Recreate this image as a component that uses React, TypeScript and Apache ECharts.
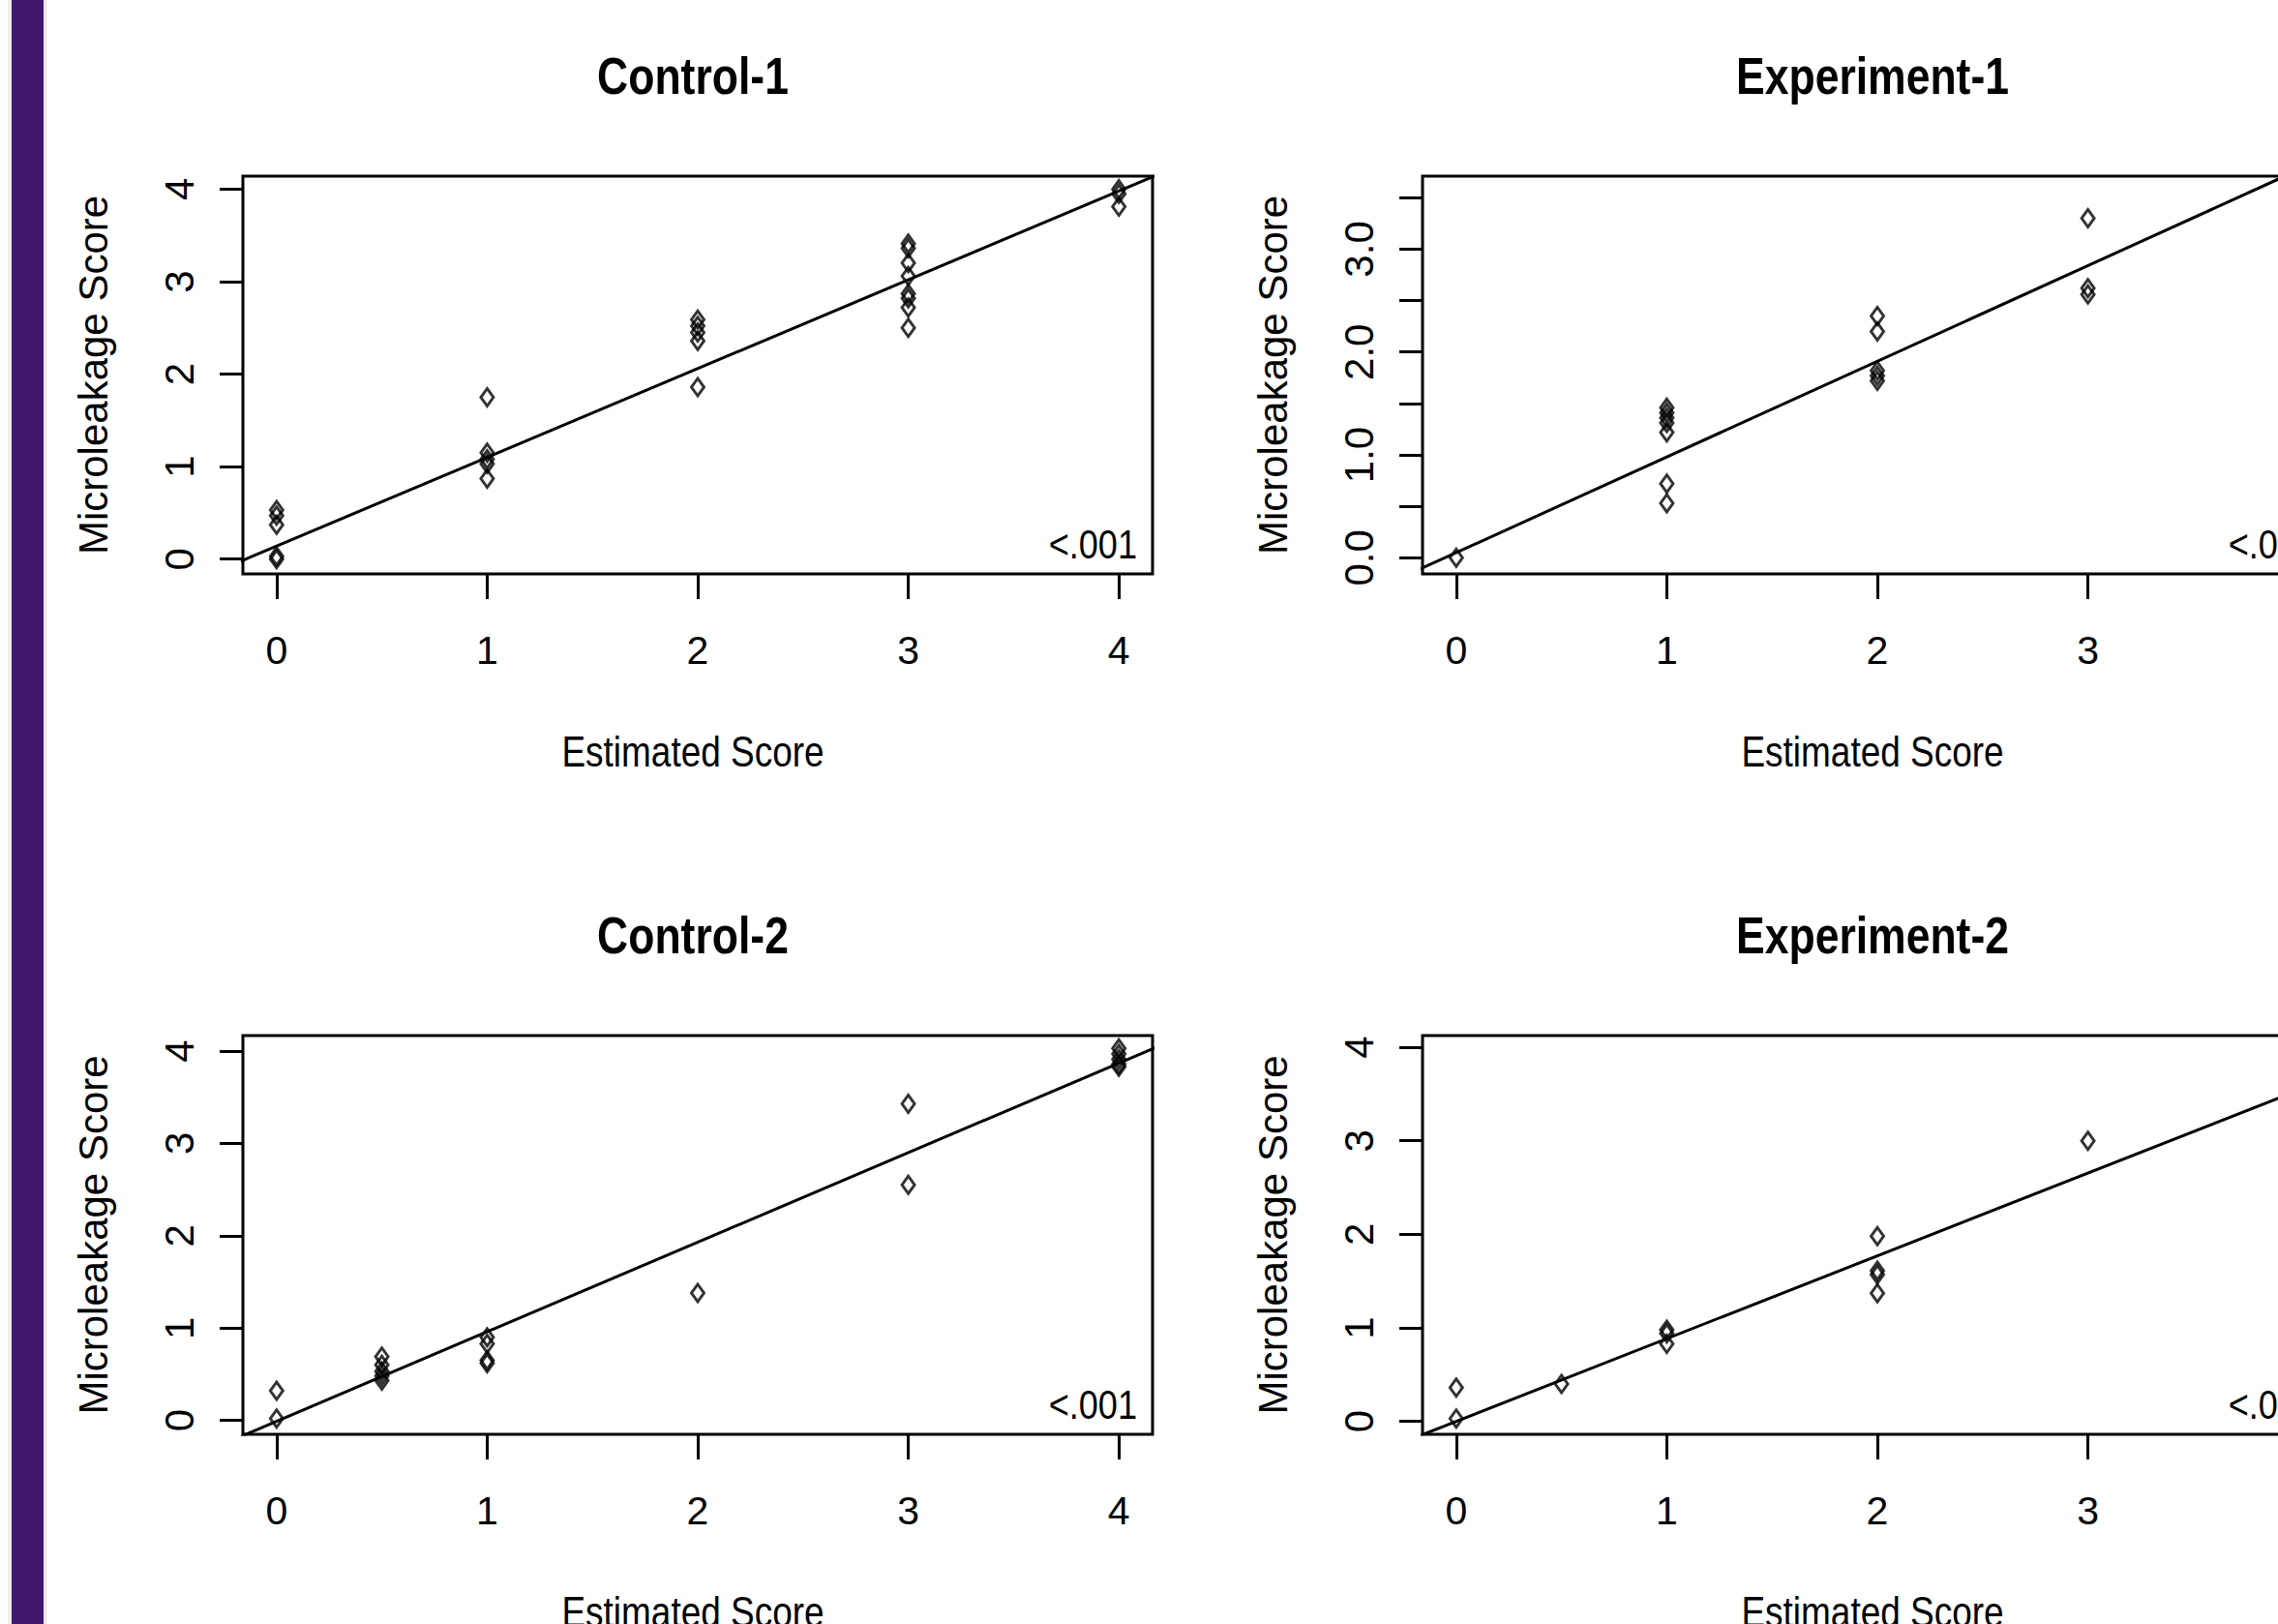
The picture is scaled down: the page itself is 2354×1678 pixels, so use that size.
import React, { useEffect, useRef } from 'react';
import * as echarts from 'echarts';

const W = 2354;
const H = 1678;
const CW = 2480; // chart canvas wider than the window: the right panels are cut off as in the reference

// ---- data ----
const titles = ['Control-1', 'Experiment-1', 'Control-2', 'Experiment-2'];
const xTitle = 'Estimated Score';
const yTitle = 'Microleakage Score';
const pText = '<.001';

const xTicks = [0, 1, 2, 3, 4];
const yTicksInt = [0, 1, 2, 3, 4];
const yTicksHalf = [0, 0.5, 1, 1.5, 2, 2.5, 3, 3.5];
const yLabelsHalf = [0, 1, 2, 3];

// Control-1
const c1X = [0, 0, 0, 0, 0, 1, 1, 1, 1, 1, 2, 2, 2, 2, 2, 3, 3, 3, 3, 3, 3, 3, 3, 4, 4, 4];
const c1Y = [0.53, 0.47, 0.37, 0.03, 0.0, 1.75, 1.15, 1.08, 1.03, 0.87, 2.59, 2.52, 2.45, 2.36, 1.86, 3.41, 3.36, 3.2, 3.06, 2.87, 2.82, 2.72, 2.5, 4.0, 3.95, 3.81];
const c1Line = [[-0.2, -0.052], [4.2, 4.172]];

// Experiment-1
const e1X = [0, 1, 1, 1, 1, 1, 1, 1, 2, 2, 2, 2, 2, 3, 3, 3];
const e1Y = [0.0, 1.46, 1.41, 1.36, 1.31, 1.22, 0.72, 0.53, 2.35, 2.2, 1.82, 1.77, 1.72, 3.3, 2.62, 2.56];
const e1Line = [[-0.2, -0.136], [4.2, 3.956]];

// Control-2
const c2X = [0, 0, 0.5, 0.5, 0.5, 0.5, 0.5, 1, 1, 1, 1, 2, 3, 3, 4, 4, 4, 4, 4];
const c2Y = [0.32, 0.02, 0.69, 0.6, 0.53, 0.48, 0.43, 0.9, 0.83, 0.65, 0.62, 1.38, 3.43, 2.55, 4.03, 3.97, 3.91, 3.86, 3.83];
const c2Line = [[-0.2, -0.204], [4.2, 4.064]];

// Experiment-2
const e2X = [0, 0, 0.5, 1, 1, 1, 2, 2, 2, 2, 3];
const e2Y = [0.36, 0.03, 0.4, 0.98, 0.94, 0.83, 1.98, 1.61, 1.57, 1.37, 3.0];
const e2Line = [[-0.2, -0.177], [4.2, 3.717]];

// axis ranges (R-style 4% extension)
const xRange = [-0.16, 4.16];
const yRanges = [[-0.16, 4.14], [-0.157, 3.71], [-0.151, 4.168], [-0.138, 4.125]];

const FONT = "'Liberation Sans', Arial, Helvetica, sans-serif";
const SQUEEZE = 0.84;

export default function App() {
  const ref = useRef<HTMLDivElement>(null);

  useEffect(() => {
    if (!ref.current) return;
    const chart = echarts.init(ref.current, undefined, { renderer: 'svg', width: CW, height: H });

    const lefts = [251, 1470, 251, 1470];
    const tops = [182, 182, 1070, 1070];
    const heights = [411, 411, 412, 412];
    const gw = 940;

    const xs = [c1X, e1X, c2X, e2X];
    const ys = [c1Y, e1Y, c2Y, e2Y];
    const lines = [c1Line, e1Line, c2Line, e2Line];

    const grids = lefts.map((l, i) => ({
      left: l,
      top: tops[i],
      width: gw,
      height: heights[i],
      show: true,
      borderColor: '#000',
      borderWidth: 3,
      backgroundColor: 'transparent',
    }));

    const xAxes = lefts.map((_, i) => ({
      type: 'value',
      gridIndex: i,
      min: xRange[0],
      max: xRange[1],
      axisLine: { show: false, onZero: false },
      axisTick: { show: true, customValues: xTicks, length: 26, inside: false, lineStyle: { color: '#000', width: 3 } },
      axisLabel: { show: true, customValues: xTicks, margin: 58, fontSize: 41, fontFamily: FONT, color: '#000' },
      splitLine: { show: false },
    }));

    const yAxes = lefts.map((_, i) => {
      const half = i === 1;
      return {
        type: 'value',
        gridIndex: i,
        min: yRanges[i][0],
        max: yRanges[i][1],
        axisLine: { show: false, onZero: false },
        axisTick: {
          show: true,
          customValues: half ? yTicksHalf : yTicksInt,
          length: 24,
          inside: false,
          lineStyle: { color: '#000', width: 3 },
        },
        axisLabel: {
          show: true,
          customValues: half ? yLabelsHalf : yTicksInt,
          rotate: 90,
          margin: 45,
          fontSize: 42,
          fontFamily: FONT,
          color: '#000',
          formatter: (v: number) => (half ? v.toFixed(1) : String(v)),
        },
        splitLine: { show: false },
        name: yTitle,
        nameLocation: 'middle',
        nameRotate: 90,
        nameGap: 134,
        nameTextStyle: { fontSize: 42, fontFamily: FONT, color: '#000' },
      };
    });

    const series: any[] = [];
    lefts.forEach((_, i) => {
      series.push({
        type: 'line',
        xAxisIndex: i,
        yAxisIndex: i,
        data: lines[i],
        symbol: 'none',
        clip: true,
        silent: true,
        lineStyle: { color: '#000', width: 3 },
      });
      series.push({
        type: 'scatter',
        xAxisIndex: i,
        yAxisIndex: i,
        data: xs[i].map((x, k) => [x, ys[i][k]]),
        symbol: 'diamond',
        symbolSize: [13, 18],
        silent: true,
        itemStyle: { color: 'rgba(0,0,0,0)', borderColor: '#000', borderWidth: 3 },
      });
    });

    const graphics: any[] = [
      { type: 'rect', left: 8, top: 0, shape: { width: 4, height: H }, style: { fill: '#ececec' }, silent: true },
      { type: 'rect', left: 12, top: 0, shape: { width: 33, height: H }, style: { fill: '#40186e' }, silent: true },
      { type: 'rect', left: 45, top: 0, shape: { width: 3, height: H }, style: { fill: '#e8e8e8' }, silent: true },
    ];
    const txt = (x: number, y: number, text: string, size: number, align: string, bold: boolean) => ({
      type: 'text',
      x,
      y,
      scaleX: SQUEEZE,
      scaleY: 1,
      silent: true,
      style: {
        text,
        fontSize: size,
        fontWeight: bold ? 'bold' : 'normal',
        fontFamily: FONT,
        fill: '#000',
        align,
        verticalAlign: 'middle',
        textAlign: align,
        textVerticalAlign: 'middle',
      },
    });
    lefts.forEach((l, i) => {
      const cx = l + gw / 2 - 5;
      graphics.push(txt(cx, tops[i] - 103, titles[i], 53, 'center', true));
      graphics.push(txt(cx, tops[i] + heights[i] + 184, xTitle, 44, 'center', false));
      graphics.push(txt(l + gw - 16, tops[i] + heights[i] - 31, pText, 43, 'right', false));
    });

    chart.setOption({
      animation: false,
      backgroundColor: '#fff',
      grid: grids,
      xAxis: xAxes,
      yAxis: yAxes,
      series,
      graphic: { elements: graphics },
    });

    return () => chart.dispose();
  }, []);

  return (
    <div style={{ position: 'fixed', left: 0, top: 0, width: W, height: H, background: '#fff', overflow: 'hidden' }}>
      <div ref={ref} style={{ position: 'absolute', left: 0, top: 0, width: CW, height: H }} />
    </div>
  );
}
